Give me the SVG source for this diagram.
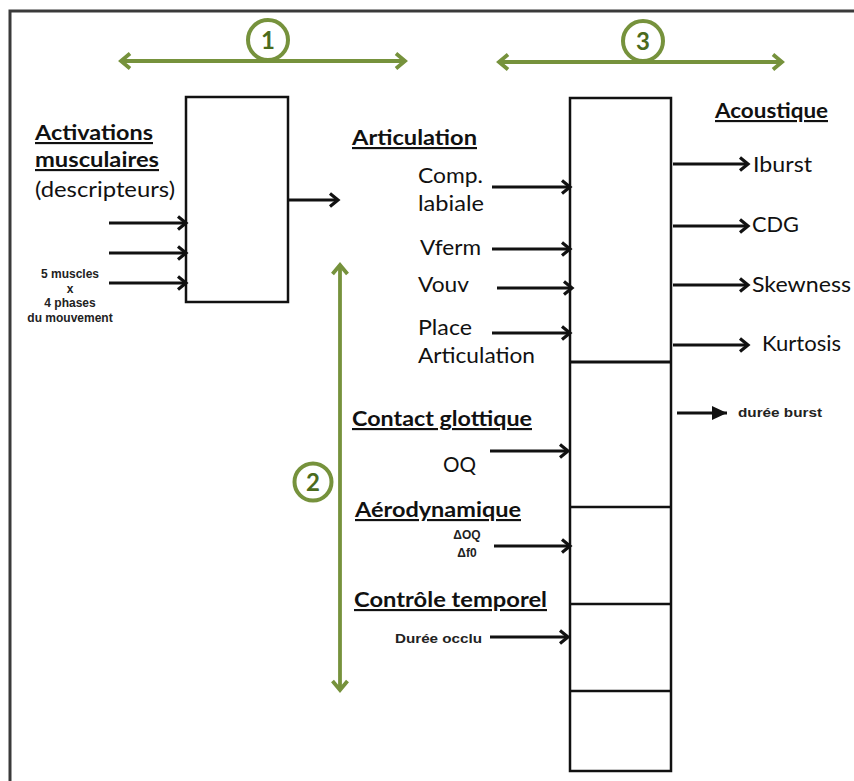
<svg xmlns="http://www.w3.org/2000/svg" width="854" height="781" viewBox="0 0 854 781">
<defs>
<style>
.t{font-family:Lato,"Liberation Sans",sans-serif;font-size:21.5px;fill:#111}
.h{font-weight:bold;text-decoration:underline}
.s{font-family:"Liberation Sans",Arial,sans-serif;font-size:12px;font-weight:bold;fill:#222}
.n{font-family:Lato,"Liberation Sans",sans-serif;font-size:24px;font-weight:bold;fill:#4b6b1c}
.box{fill:#fff;stroke:#111;stroke-width:2.5}
.a{stroke:#111;stroke-width:3.2;fill:none;marker-end:url(#ah)}
.b{stroke:#111;stroke-width:3.2;fill:none;marker-end:url(#tri)}
.g{stroke:#76923c;stroke-width:3.8;fill:none;marker-start:url(#gs);marker-end:url(#ge)}
.c{fill:#fff;stroke:#76923c;stroke-width:4}
</style>
<marker id="ah" markerUnits="userSpaceOnUse" markerWidth="14" markerHeight="18" refX="11" refY="9" orient="auto">
<path d="M3,2.5 L11,9 L3,15.5" fill="none" stroke="#111" stroke-width="3.2"/>
</marker>
<marker id="tri" markerUnits="userSpaceOnUse" markerWidth="16" markerHeight="16" refX="15" refY="8" orient="auto">
<path d="M0,1 L15,8 L0,15 Z" fill="#111"/>
</marker>
<marker id="ge" markerUnits="userSpaceOnUse" markerWidth="16" markerHeight="20" refX="12" refY="10" orient="auto">
<path d="M3,2.5 L12,10 L3,17.5" fill="none" stroke="#76923c" stroke-width="3.8"/>
</marker>
<marker id="gs" markerUnits="userSpaceOnUse" markerWidth="16" markerHeight="20" refX="4" refY="10" orient="auto">
<path d="M13,2.5 L4,10 L13,17.5" fill="none" stroke="#76923c" stroke-width="3.8"/>
</marker>
</defs>
<rect width="854" height="781" fill="#fff"/>
<rect x="10" y="11" width="880" height="800" fill="none" stroke="#3a3a3a" stroke-width="3"/>

<g id="phases">
<g id="phase1">
<line class="g" x1="121" y1="61" x2="405" y2="61"/>
<circle class="c" cx="268" cy="40" r="20"/>
<text class="n" x="268" y="49" text-anchor="middle">1</text>
</g>
<g id="phase3">
<line class="g" x1="499" y1="62" x2="782" y2="62"/>
<circle class="c" cx="643" cy="41" r="20"/>
<text class="n" x="643" y="50" text-anchor="middle">3</text>
</g>
<g id="phase2">
<line class="g" x1="340" y1="265" x2="340" y2="690"/>
<circle class="c" cx="313" cy="482" r="18.5"/>
<text class="n" x="313" y="491" text-anchor="middle">2</text>
</g>
</g>

<g id="left-box">
<rect class="box" x="186" y="97" width="102" height="205"/>
</g>

<g id="right-column">
<rect class="box" x="570" y="98" width="101" height="673"/>
<line x1="570" y1="362" x2="671" y2="362" stroke="#111" stroke-width="3"/>
<line x1="570" y1="507" x2="671" y2="507" stroke="#111" stroke-width="2.5"/>
<line x1="570" y1="604" x2="671" y2="604" stroke="#111" stroke-width="2.5"/>
<line x1="570" y1="691" x2="671" y2="691" stroke="#111" stroke-width="2.5"/>
</g>

<g id="activations">
<text class="t h" x="35" y="140" textLength="118" lengthAdjust="spacingAndGlyphs">Activations</text>
<text class="t h" x="35" y="167" textLength="124" lengthAdjust="spacingAndGlyphs">musculaires</text>
<text class="t" x="35" y="197" textLength="140" lengthAdjust="spacingAndGlyphs">(descripteurs)</text>
<text class="s" x="70" y="278" text-anchor="middle">5 muscles</text>
<text class="s" x="70" y="293" text-anchor="middle">x</text>
<text class="s" x="70" y="307" text-anchor="middle">4 phases</text>
<text class="s" x="70" y="322" text-anchor="middle">du mouvement</text>
</g>

<g id="articulation">
<text class="t h" x="352" y="145" textLength="125" lengthAdjust="spacingAndGlyphs">Articulation</text>
<text class="t" x="418" y="183" textLength="65" lengthAdjust="spacingAndGlyphs">Comp.</text>
<text class="t" x="418" y="211" textLength="66" lengthAdjust="spacingAndGlyphs">labiale</text>
<text class="t" x="420" y="255" textLength="61" lengthAdjust="spacingAndGlyphs">Vferm</text>
<text class="t" x="418" y="292" textLength="51" lengthAdjust="spacingAndGlyphs">Vouv</text>
<text class="t" x="418" y="335" textLength="54" lengthAdjust="spacingAndGlyphs">Place</text>
<text class="t" x="418" y="363" textLength="117" lengthAdjust="spacingAndGlyphs">Articulation</text>
</g>

<g id="acoustique">
<text class="t h" x="715" y="118" textLength="113" lengthAdjust="spacingAndGlyphs">Acoustique</text>
<text class="t" x="753" y="172" textLength="59" lengthAdjust="spacingAndGlyphs">Iburst</text>
<text class="t" x="752" y="232" textLength="47" lengthAdjust="spacingAndGlyphs">CDG</text>
<text class="t" x="752" y="292" textLength="99" lengthAdjust="spacingAndGlyphs">Skewness</text>
<text class="t" x="762" y="351" textLength="79" lengthAdjust="spacingAndGlyphs">Kurtosis</text>
<text class="s" x="738" y="417" textLength="84" lengthAdjust="spacingAndGlyphs">durée burst</text>
</g>

<g id="contact-glottique">
<text class="t h" x="352" y="426" textLength="180" lengthAdjust="spacingAndGlyphs">Contact glottique</text>
<text class="t" x="443" y="472" textLength="33" lengthAdjust="spacingAndGlyphs">OQ</text>
</g>

<g id="aerodynamique">
<text class="t h" x="355" y="517" textLength="166" lengthAdjust="spacingAndGlyphs">Aérodynamique</text>
<text class="s" x="467" y="539" text-anchor="middle">ΔOQ</text>
<text class="s" x="467" y="557" text-anchor="middle">Δf0</text>
</g>

<g id="controle-temporel">
<text class="t h" x="354" y="607" textLength="193" lengthAdjust="spacingAndGlyphs">Contrôle temporel</text>
<text class="s" x="395" y="643" textLength="87" lengthAdjust="spacingAndGlyphs">Durée occlu</text>
</g>

<g id="connectors">
<line class="a" x1="109" y1="223" x2="186" y2="223"/>
<line class="a" x1="109" y1="253" x2="186" y2="253"/>
<line class="a" x1="109" y1="283" x2="186" y2="283"/>
<line class="a" x1="288" y1="200" x2="338" y2="200"/>
<line class="a" x1="492" y1="187" x2="570" y2="187"/>
<line class="a" x1="492" y1="249" x2="570" y2="249"/>
<line class="a" x1="497" y1="288" x2="572" y2="288"/>
<line class="a" x1="492" y1="333" x2="570" y2="333"/>
<line class="a" x1="673" y1="164" x2="748" y2="164"/>
<line class="a" x1="673" y1="226" x2="748" y2="226"/>
<line class="a" x1="673" y1="285" x2="748" y2="285"/>
<line class="a" x1="673" y1="345" x2="748" y2="345"/>
<line class="b" x1="677" y1="413" x2="727" y2="413"/>
<line class="a" x1="490" y1="451" x2="568" y2="451"/>
<line class="a" x1="494" y1="546" x2="570" y2="546"/>
<line class="a" x1="490" y1="637" x2="568" y2="637"/>
</g>
</svg>
